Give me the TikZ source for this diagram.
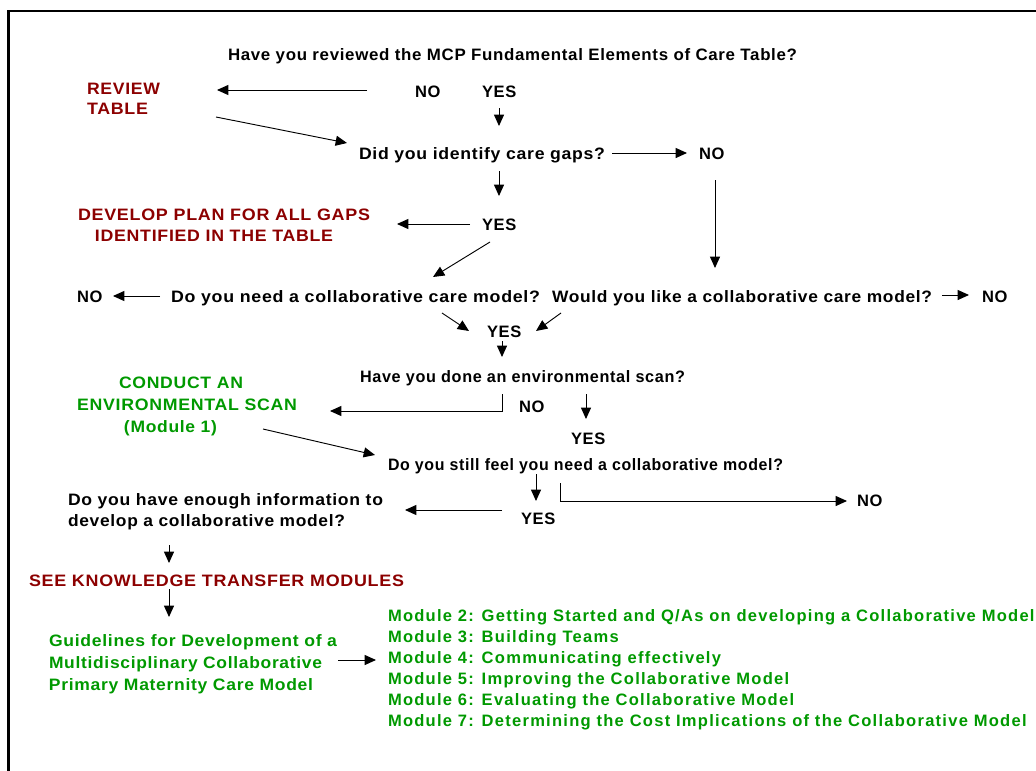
\documentclass[tikz,border=0pt]{standalone}
\usepackage{fontspec}
\setmainfont{Liberation Sans}[LetterSpace=4]
\usepackage{graphicx}
\usetikzlibrary{arrows.meta}
\newdimen\pxu \pxu=0.75pt
\newcommand\fw[2]{\resizebox{#1\pxu}{\height}{#2}}
\definecolor{dred}{RGB}{140,0,0}
\definecolor{dgreen}{RGB}{0,153,0}
\begin{document}
\begin{tikzpicture}[x=0.75pt,y=-0.75pt,
  txt/.style={inner sep=0pt, outer sep=0pt, text=black, font=\fontsize{12.4pt}{15.75pt}\selectfont\bfseries},
  redtxt/.style={text=dred},
  greentxt/.style={text=dgreen},
  arr/.style={-{Triangle[length=8.5pt,width=7.5pt]}, line width=0.7pt},
  frame/.style={line width=2pt, line join=miter}]
\path[use as bounding box] (0,0) rectangle (1036,771);
\draw[frame] (8.7,771) |- (1036,11);

% nodes
\node[txt, anchor=base west] (title) at (228,60) {\fw{569}{Have you reviewed the MCP Fundamental Elements of Care Table?}};
\node[txt, redtxt, anchor=north west, align=left, font=\fontsize{12.4pt}{15pt}\selectfont\bfseries] (review) at (87,83) {\fw{73}{REVIEW}\\\fw{61}{TABLE}};
\node[txt, anchor=base west] (no1) at (415,97) {NO};
\node[txt, anchor=base west] (yes1) at (482,97) {YES};
\node[txt, anchor=base west] (q2) at (359,159) {\fw{246}{Did you identify care gaps?}};
\node[txt, anchor=base west] (no2) at (699,159) {NO};
\node[txt, redtxt, anchor=north west, align=left] (develop) at (78,209) {\fw{292}{DEVELOP PLAN FOR ALL GAPS}\\\hspace*{17\pxu}\fw{238}{IDENTIFIED IN THE TABLE}};
\node[txt, anchor=base west] (yes2) at (482,230) {YES};
\node[txt, anchor=base west] (no3) at (77,302) {NO};
\node[txt, anchor=base west] (q3) at (171,302) {\fw{369}{Do you need a collaborative care model?}};
\node[txt, anchor=base west] (q4) at (552,302) {\fw{380}{Would you like a collaborative care model?}};
\node[txt, anchor=base west] (no4) at (982,302) {NO};
\node[txt, anchor=base west] (yes3) at (487,337) {YES};
\node[txt, anchor=base west] (q5) at (360,382) {\fw{325}{Have you done an environmental scan?}};
\node[txt, anchor=base west] (no5) at (519,412) {NO};
\node[txt, anchor=base west] (yes4) at (571,444) {YES};
\node[txt, greentxt, anchor=north west, align=left, font=\fontsize{12.4pt}{16.5pt}\selectfont\bfseries] (conduct) at (77,377) {\hspace*{42\pxu}\fw{124}{CONDUCT AN}\\\fw{220}{ENVIRONMENTAL SCAN}\\\hspace*{47\pxu}\fw{93}{(Module 1)}};
\node[txt, anchor=base west] (q6) at (388,470) {\fw{395}{Do you still feel you need a collaborative model?}};
\node[txt, anchor=base west] (yes5) at (521,524) {YES};
\node[txt, anchor=base west] (no6) at (857,506) {NO};
\node[txt, anchor=north west, align=left] (q7) at (68,494) {\fw{315}{Do you have enough information to}\\\fw{277}{develop a collaborative model?}};
\node[txt, redtxt, anchor=base west] (see) at (29,586) {\fw{375}{SEE KNOWLEDGE TRANSFER MODULES}};
\node[txt, greentxt, anchor=north west, align=left, font=\fontsize{12.4pt}{16.5pt}\selectfont\bfseries] (guide) at (49,635) {\fw{288}{Guidelines for Development of a}\\\fw{273}{Multidisciplinary Collaborative}\\\fw{264}{Primary Maternity Care Model}};
\node[txt, greentxt, anchor=north west, align=left, font=\fontsize{12.4pt}{15.75pt}\selectfont\bfseries\addfontfeatures{LetterSpace=7.6}] (mod) at (388,610) {Module 2: Getting Started and Q/As on developing a Collaborative Model\\Module 3: Building Teams\\Module 4: Communicating effectively\\Module 5: Improving the Collaborative Model\\Module 6: Evaluating the Collaborative Model\\Module 7: Determining the Cost Implications of the Collaborative Model};

% connectors
\draw[arr] ([shift={(-48,-7)}]no1.base west) -- ([shift={(130,7)}]review.north west);
\draw[arr] ([shift={(129,34)}]review.north west) -- ([shift={(-12,-16)}]q2.base west);
\draw[arr] ([shift={(17,11)}]yes1.base west) -- ([shift={(140,-33)}]q2.base west);
\draw[arr] ([shift={(253,-6)}]q2.base west) -- ([shift={(-12,-6)}]no2.base west);
\draw[arr] ([shift={(140,12)}]q2.base west) -- ([shift={(17,-34)}]yes2.base west);
\draw[arr] ([shift={(16,21)}]no2.base west) -- ([shift={(163,-34)}]q4.base west);
\draw[arr] ([shift={(-12,-6)}]yes2.base west) -- ([shift={(319,15)}]develop.north west);
\draw[arr] ([shift={(8,12)}]yes2.base west) -- ([shift={(262,-25)}]q3.base west);
\draw[arr] ([shift={(-11,-6)}]q3.base west) -- ([shift={(36,-6)}]no3.base west);
\draw[arr] ([shift={(390,-7)}]q4.base west) -- ([shift={(-13,-7)}]no4.base west);
\draw[arr] ([shift={(271,11)}]q3.base west) -- ([shift={(-18,-6)}]yes3.base west);
\draw[arr] ([shift={(9,11)}]q4.base west) -- ([shift={(49,-6)}]yes3.base west);
\draw[arr] ([shift={(15,4)}]yes3.base west) -- ([shift={(142,-25)}]q5.base west);
\draw[arr] ([shift={(142,12)}]q5.base west) |- ([shift={(253,34)}]conduct.north west);
\draw[arr] ([shift={(226,12)}]q5.base west) -- ([shift={(15,-25)}]yes4.base west);
\draw[arr] ([shift={(186,52)}]conduct.north west) -- ([shift={(-13,-15)}]q6.base west);
\draw[arr] ([shift={(148,4)}]q6.base west) -- ([shift={(15,-23)}]yes5.base west);
\draw[arr] ([shift={(172,13)}]q6.base west) |- ([shift={(-10,-5)}]no6.base west);
\draw[arr] ([shift={(-19,-14)}]yes5.base west) -- ([shift={(337,16)}]q7.north west);
\draw[arr] ([shift={(101,51)}]q7.north west) -- ([shift={(140,-23)}]see.base west);
\draw[arr] ([shift={(140,3)}]see.base west) -- ([shift={(120,-18)}]guide.north west);
\draw[arr] ([shift={(289,25)}]guide.north west) -- ([shift={(-12,50)}]mod.north west);
\end{tikzpicture}
\end{document}
